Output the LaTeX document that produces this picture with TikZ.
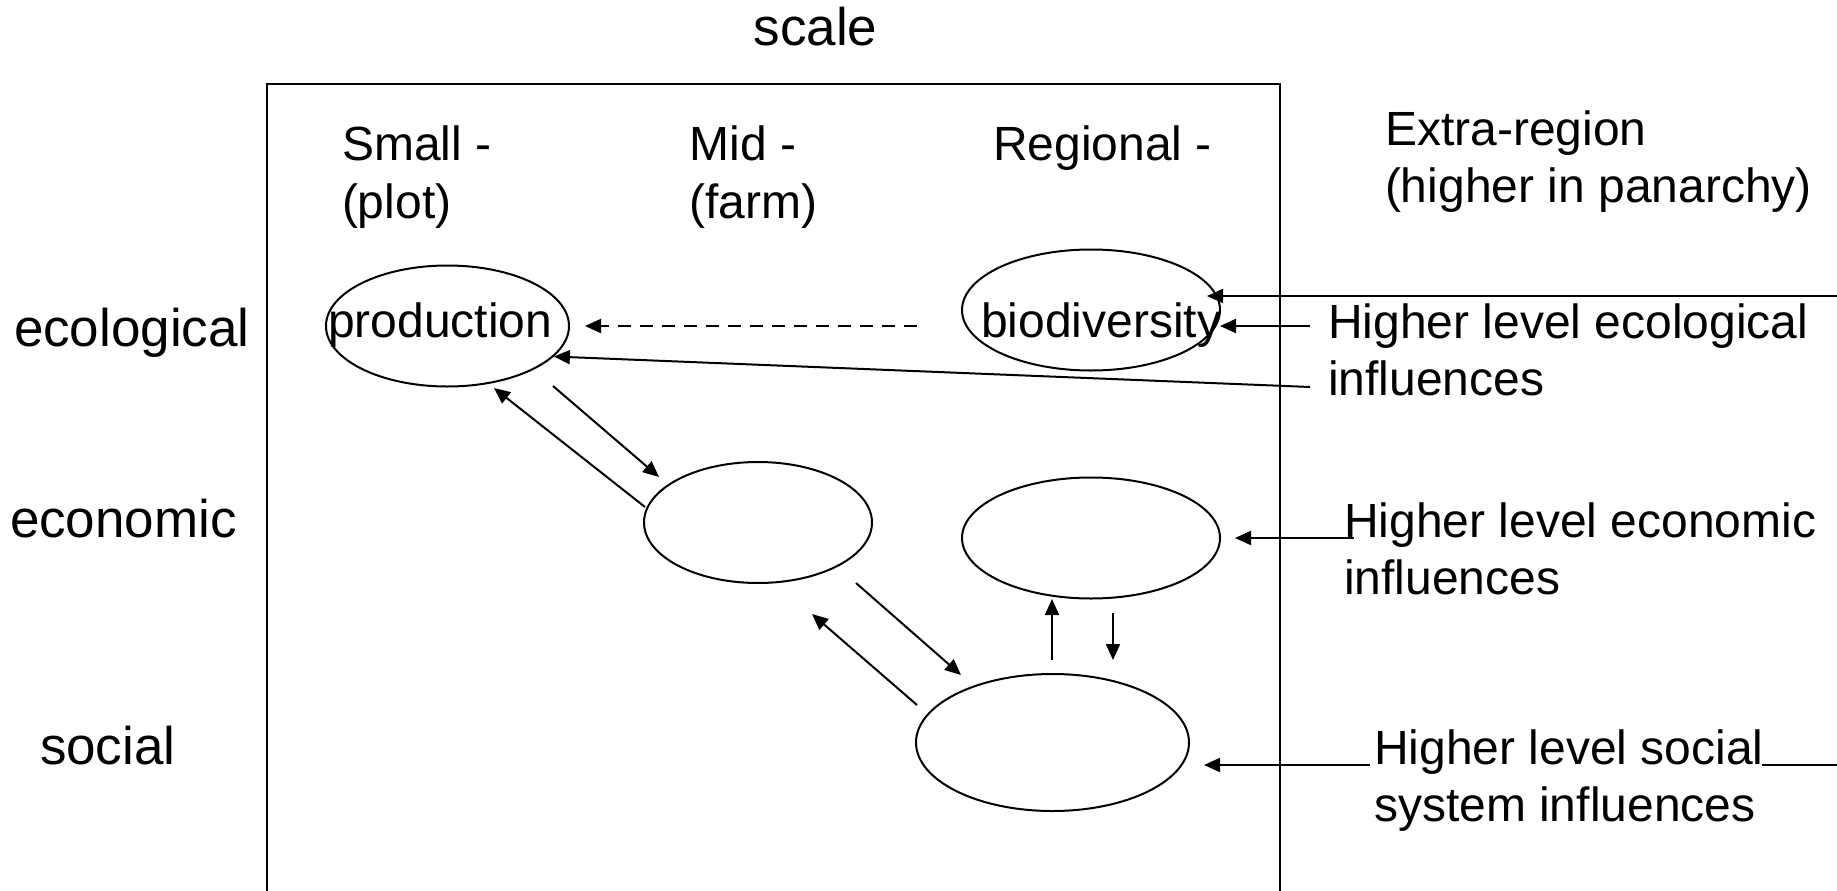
\documentclass[tikz,border=0pt]{standalone}
\usepackage{fontspec}
\setmainfont{Liberation Sans}
\usetikzlibrary{shapes.geometric,arrows.meta}
\newcommand\ftxt{\fontsize{48}{57.6}\selectfont}
\newcommand\flab{\fontsize{53}{63.6}\selectfont}
\begin{document}
\begin{tikzpicture}[x=1pt,y=-1pt, line width=2pt,
  ell/.style={draw, ellipse, inner sep=0pt},
  txt/.style={inner sep=0pt, anchor=base west, font=\ftxt},
  lab/.style={inner sep=0pt, anchor=base west, font=\flab},
  arr/.style={-{Triangle[length=16pt,width=14pt]}},
  dsh/.style={dash pattern=on 13pt off 9pt},
]
\useasboundingbox (0,0) rectangle (1837,891);

% frame
\coordinate (bxBL) at (267,891);
\coordinate (bxTL) at (267,84);
\coordinate (bxTR) at (1280,84);
\coordinate (bxBR) at (1280,891);
\draw (bxBL) -- (bxTL) -- (bxTR) -- (bxBR);

% ellipses
\node[ell, minimum width=243pt, minimum height=121pt] (prod) at (447.5,326) {};
\node[ell, minimum width=258pt, minimum height=121pt] (bio) at (1091,310) {};
\node[ell, minimum width=228pt, minimum height=121pt] (mid) at (758,522.5) {};
\node[ell, minimum width=258pt, minimum height=121pt] (econ) at (1091,538) {};
\node[ell, minimum width=273pt, minimum height=137pt] (soc) at (1052.5,742.5) {};

% texts
\node[lab, anchor=base] (tscale) at (815.5,46) {scale};
\node[txt] (tsmall) at (341,160) {Small -};
\node[txt] (tplot) at (341,218) {(plot)};
\node[txt] (tmid) at (688.5,160) {Mid -};
\node[txt] (tfarm) at (688.5,218) {(farm)};
\node[txt] (treg) at (992,160) {Regional -};
\node[txt] (textra) at (1384,145) {Extra-region};
\node[txt] (thigher) at (1384,202) {(higher in panarchy)};
\node[lab] (tecol) at (13,346) {ecological};
\node[lab] (tecon) at (9,537) {economic};
\node[lab] (tsoc) at (39,764) {social};
\node[txt] (tprod) at (327,337) {production};
\node[txt] (tbio) at (980,337) {biodiversity};
\node[txt] (hecol) at (1327,338) {Higher level ecological};
\node[txt] (hecolb) at (1327,395) {influences};
\node[txt] (hecon) at (1343,537) {Higher level economic};
\node[txt] (heconb) at (1343,594) {influences};
\node[txt] (hsoc) at (1373,764) {Higher level social};
\node[txt] (hsocb) at (1373,821) {system influences};

% connector end points
\coordinate (dashS) at (917,326);   \coordinate (dashT) at (585,326);
\coordinate (aS) at (1837,296);     \coordinate (aT) at (1207,296);
\coordinate (bS) at (1310,326);     \coordinate (bT) at (1220,326);
\coordinate (cS) at (1310,387);
\coordinate (dS) at (553,386);      \coordinate (dT) at (659,477);
\coordinate (eS) at (645,507);      \coordinate (eT) at (494,388);
\coordinate (fS) at (856,583);      \coordinate (fT) at (961,675);
\coordinate (gS) at (917,705);      \coordinate (gT) at (812,614);
\coordinate (hS) at (1052,660);     \coordinate (hT) at (1052,599);
\coordinate (iS) at (1113,613);     \coordinate (iT) at (1113,660);
\coordinate (jS) at (1354,538);     \coordinate (jT) at (1235,538);
\coordinate (kS) at (1370,765);     \coordinate (kT) at (1204,765);
\coordinate (lS) at (1762,765);     \coordinate (lT) at (1837,765);

% connectors
\draw[arr,dsh] (dashS) -- (dashT);
\draw[arr] (aS) -- (aT);
\draw[arr] (bS) -- (bT);
\draw[arr] (cS) -- (prod.-16);
\draw[arr] (dS) -- (dT);
\draw[arr] (eS) -- (eT);
\draw[arr] (fS) -- (fT);
\draw[arr] (gS) -- (gT);
\draw[arr] (hS) -- (hT);
\draw[arr] (iS) -- (iT);
\draw[arr] (jS) -- (jT);
\draw[arr] (kS) -- (kT);
\draw (lS) -- (lT);
\end{tikzpicture}
\end{document}
